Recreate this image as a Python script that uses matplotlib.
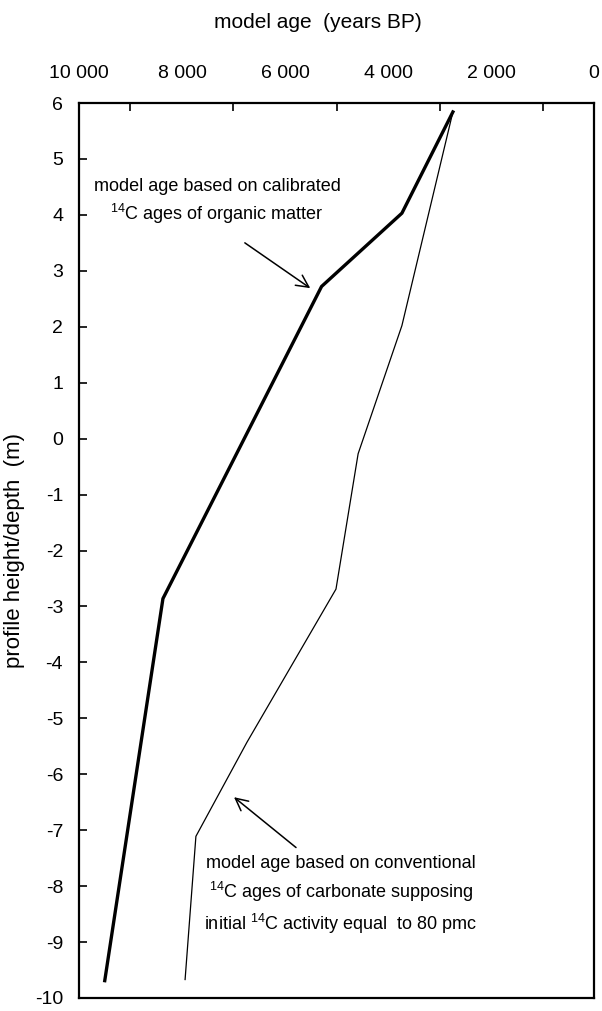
import matplotlib
matplotlib.use("Agg")
import matplotlib.pyplot as plt
from matplotlib.ticker import FixedLocator, FuncFormatter

plt.rcParams['font.family'] = ['Liberation Sans', 'DejaVu Sans']
plt.rcParams['mathtext.default'] = 'regular'
plt.rcParams['axes.unicode_minus'] = False

# Data (model age in years BP vs profile height/depth in m)
calibrated_age = [2740, 3730, 5290, 8370, 9500]
calibrated_depth = [5.84, 4.03, 2.72, -2.86, -9.69]

conventional_age = [2740, 3730, 4580, 5010, 6740, 7730, 7940]
conventional_depth = [5.84, 2.02, -0.27, -2.69, -5.43, -7.11, -9.67]

x_ticks_major = [10000, 8000, 6000, 4000, 2000, 0]
x_ticks_minor = [9000, 7000, 5000, 3000, 1000]
y_ticks = list(range(-10, 7))

fig = plt.figure(figsize=(6.02, 10.11), dpi=100)
ax = fig.add_axes([79/602, 13/1011, 515/602, 895/1011])

ax.plot(calibrated_age, calibrated_depth, color='black', lw=2.4)
ax.plot(conventional_age, conventional_depth, color='black', lw=0.9)

ax.set_xlim(10000, 0)
ax.set_ylim(-10, 6)

ax.xaxis.tick_top()
ax.xaxis.set_major_locator(FixedLocator(x_ticks_major))
ax.xaxis.set_minor_locator(FixedLocator(x_ticks_minor))
ax.xaxis.set_major_formatter(FuncFormatter(lambda v, p: f"{int(v):,}".replace(",", " ")))
ax.tick_params(axis='x', which='both', direction='in', length=6, width=1.2,
               top=True, bottom=False, labeltop=True, labelbottom=False,
               labelsize=14, pad=15)
ax.tick_params(axis='x', which='major', length=0)
ax.set_yticks(y_ticks)
ax.tick_params(axis='y', direction='in', length=6, width=1.2, labelsize=14, pad=11.5)

for s in ax.spines.values():
    s.set_linewidth(1.6)

ax.set_ylabel('profile height/depth  (m)', fontsize=16)
ax.yaxis.set_label_coords(-0.105, 0.5)
fig.text(318/602, 1 - 22/1011, 'model age  (years BP)', ha='center', va='center', fontsize=15)

arrow = dict(arrowstyle='->', color='black', lw=1.1, mutation_scale=22,
             shrinkA=0, shrinkB=0)

ax.text(7320, 4.23, 'model age based on calibrated\n$^{14}$C ages of organic matter',
        ha='center', va='center', fontsize=13, linespacing=1.35)
ax.annotate('', xy=(5510, 2.69), xytext=(6780, 3.50), arrowprops=arrow)

ax.text(4913, -8.17,
        'model age based on conventional\n$^{14}$C ages of carbonate supposing\ninitial $^{14}$C activity equal  to 80 pmc',
        ha='center', va='center', fontsize=13, linespacing=1.45)
ax.annotate('', xy=(6990, -6.41), xytext=(5786, -7.31), arrowprops=arrow)

fig.savefig('out.png', dpi=100)
